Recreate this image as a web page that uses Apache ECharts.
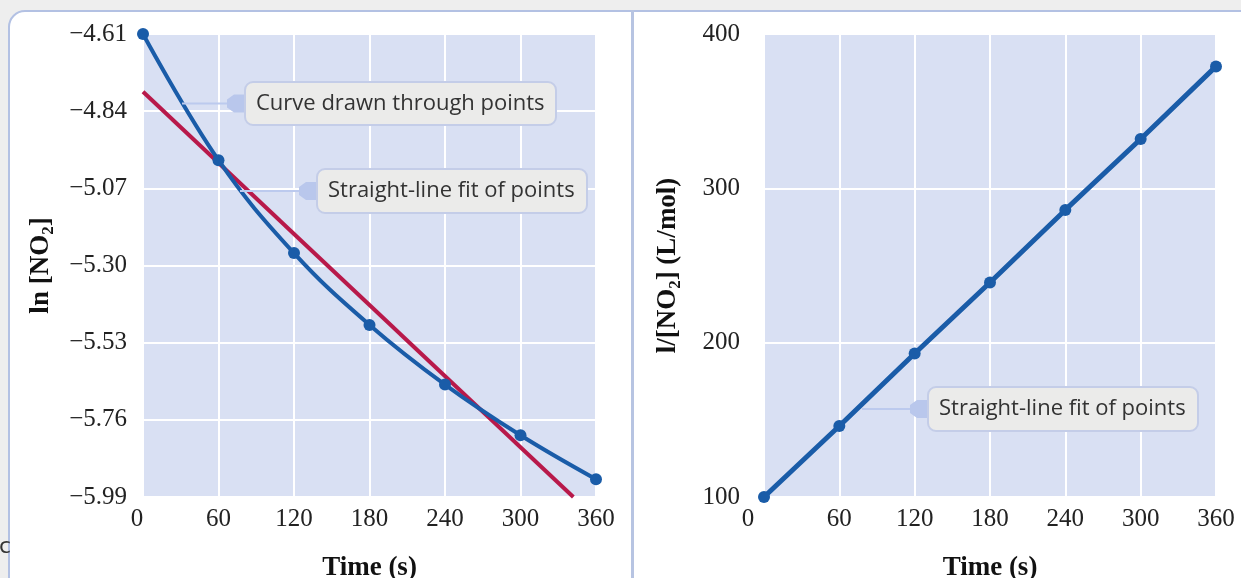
<!DOCTYPE html>
<html>
<head>
<meta charset="utf-8">
<script src="https://cdn.jsdelivr.net/npm/echarts@6/dist/echarts.min.js"></script>
<style>
html, body { margin: 0; padding: 0; background: #eeeeee; }
#chart { width: 1241px; height: 578px; }
</style>
</head>
<body>
<div id="chart"></div>
<script>
// ---- data ----
const times = [0, 60, 120, 180, 240, 300, 360];
const lnNO2 = [-4.610, -4.986, -5.263, -5.477, -5.655, -5.806, -5.937];
const invNO2 = [100, 146, 193, 239, 286, 332, 379];
const fitTimes = [0, 342];
const fitLn = [-4.782, -5.99];
const lnTicks = [-5.99, -5.76, -5.53, -5.30, -5.07, -4.84, -4.61];
const invTicks = [100, 200, 300, 400];
const timeTicks = [0, 60, 120, 180, 240, 300, 360];
const calloutTexts = ['Curve drawn through points', 'Straight-line fit of points', 'Straight-line fit of points'];

const pairs = (xs, ys) => xs.map((x, i) => [x, ys[i]]);

const BLUE = '#1a5ca8';
const RED = '#b8194a';
const PLOT_BG = '#d9e0f3';
const SERIF = '"Liberation Serif", "Times New Roman", serif';

const chart = echarts.init(document.getElementById('chart'), null, { renderer: 'canvas' });

function xAxisCfg(gridIndex, zeroPad) {
  return {
    type: 'value', gridIndex: gridIndex, min: timeTicks[0], max: timeTicks[timeTicks.length - 1], interval: 60,
    axisLine: { show: false }, axisTick: { show: false },
    splitLine: { show: true, lineStyle: { color: '#ffffff', width: 2 } },
    axisLabel: {
      fontFamily: SERIF, fontSize: 25, color: '#222', margin: 10,
      formatter: v => v === 0 ? '{z|0}' : String(v),
      rich: { z: { fontFamily: SERIF, fontSize: 25, color: '#222', padding: [0, zeroPad, 0, 0] } }
    },
    name: 'Time (s)', nameLocation: 'middle', nameGap: 58,
    nameTextStyle: { fontFamily: SERIF, fontSize: 27, fontWeight: 'bold', color: '#111' }
  };
}

const nameRich = {
  b: { fontFamily: SERIF, fontSize: 27, fontWeight: 'bold', color: '#111', lineHeight: 32 },
  s: { fontFamily: SERIF, fontSize: 17, fontWeight: 'bold', color: '#111', verticalAlign: 'bottom' }
};

function callout(x, y, w, h, lineStart, text) {
  const cy = y + h / 2;
  return [
    { type: 'line', z: 50, shape: { x1: lineStart, y1: cy, x2: x - 10, y2: cy },
      style: { stroke: '#bccaee', lineWidth: 2 } },
    { type: 'polygon', z: 51, shape: { points: [[x - 18, cy - 4], [x - 11, cy - 9], [x + 2, cy - 9], [x + 2, cy + 9], [x - 11, cy + 9], [x - 18, cy + 4]] },
      style: { fill: '#b9c7ec' } },
    { type: 'rect', z: 52, shape: { x: x, y: y, width: w, height: h, r: 8 },
      style: { fill: '#ebebea', stroke: '#c4cde8', lineWidth: 2 } },
    { type: 'text', z: 53, x: x + 11, y: cy,
      style: { text: text, fontFamily: '"Open Sans", "Noto Sans", sans-serif', fontSize: 22, fill: '#333', verticalAlign: 'middle', align: 'left' } }
  ];
}

const option = {
  animation: false,
  backgroundColor: '#eeeeee',
  grid: [
    { left: 143, top: 34, width: 453, height: 463, show: true, backgroundColor: PLOT_BG, borderWidth: 0,
      containLabel: false, outerBoundsMode: 'none' },
    { left: 764, top: 34, width: 452, height: 463, show: true, backgroundColor: PLOT_BG, borderWidth: 0,
      containLabel: false, outerBoundsMode: 'none' }
  ],
  xAxis: [xAxisCfg(0, 12), xAxisCfg(1, 32)],
  yAxis: [
    {
      type: 'value', gridIndex: 0, min: lnTicks[0], max: lnTicks[lnTicks.length - 1],
      axisLine: { show: false }, axisTick: { show: false, customValues: lnTicks },
      splitLine: { show: true, lineStyle: { color: '#ffffff', width: 2 } },
      axisLabel: { customValues: lnTicks, fontFamily: SERIF, fontSize: 25, color: '#222', margin: 16,
        formatter: v => v.toFixed(2).replace('-', '\u2212') },
      name: '{b|ln [NO}{s|2}{b|]}', nameLocation: 'middle', nameGap: 86,
      nameTextStyle: { rich: nameRich }
    },
    {
      type: 'value', gridIndex: 1, min: invTicks[0], max: invTicks[invTicks.length - 1], interval: 100,
      axisLine: { show: false }, axisTick: { show: false },
      splitLine: { show: true, lineStyle: { color: '#ffffff', width: 2 } },
      axisLabel: { fontFamily: SERIF, fontSize: 25, color: '#222', margin: 24 },
      name: '{b|l/[NO}{s|2}{b|] (L/mol)}', nameLocation: 'middle', nameGap: 80,
      nameTextStyle: { rich: nameRich }
    }
  ],
  series: [
    { type: 'line', xAxisIndex: 0, yAxisIndex: 0, data: pairs(fitTimes, fitLn),
      showSymbol: false, lineStyle: { color: RED, width: 4 }, z: 2 },
    { type: 'line', xAxisIndex: 0, yAxisIndex: 0, data: pairs(times, lnNO2), smooth: 0.4,
      symbol: 'circle', symbolSize: 12, itemStyle: { color: BLUE }, lineStyle: { color: BLUE, width: 4 }, z: 3 },
    { type: 'line', xAxisIndex: 1, yAxisIndex: 1, data: pairs(times, invNO2),
      symbol: 'circle', symbolSize: 12, itemStyle: { color: BLUE }, lineStyle: { color: BLUE, width: 5 }, z: 3 }
  ],
  graphic: [
    { type: 'rect', z: -100, shape: { x: 9, y: 11, width: 1300, height: 700, r: [16, 0, 0, 0] },
      style: { fill: '#ffffff', stroke: '#b3c1e3', lineWidth: 2 } },
    { type: 'line', z: -99, shape: { x1: 632.5, y1: 10, x2: 632.5, y2: 578 },
      style: { stroke: '#b7c4e2', lineWidth: 3 } },
    { type: 'text', z: -98, x: -1, y: 547,
      style: { text: 'c', fontFamily: '"DejaVu Sans", sans-serif', fontSize: 22, fill: '#333', verticalAlign: 'middle', align: 'left' } }
  ].concat(
    callout(245, 82, 311, 43, 182, calloutTexts[0]),
    callout(317, 169, 270, 44, 240, calloutTexts[1]),
    callout(928, 387, 270, 44, 862, calloutTexts[2])
  )
};

chart.setOption(option);
</script>
</body>
</html>
